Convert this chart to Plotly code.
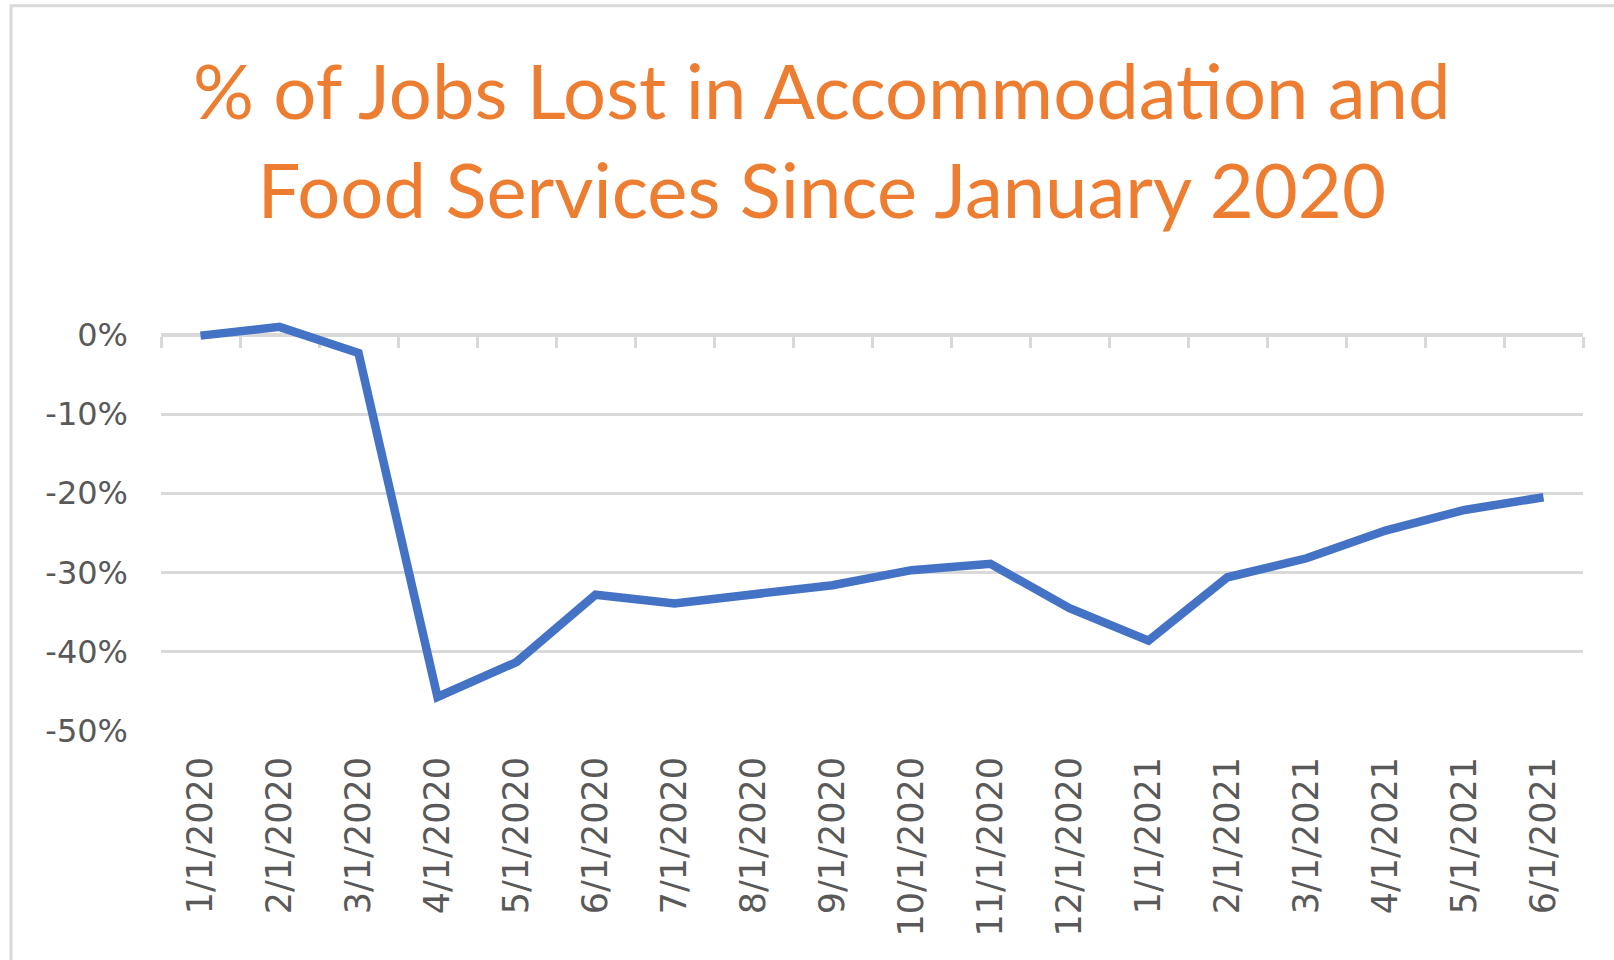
import plotly.graph_objects as go

# ---- data ----
months = ["1/1/2020", "2/1/2020", "3/1/2020", "4/1/2020", "5/1/2020", "6/1/2020",
          "7/1/2020", "8/1/2020", "9/1/2020", "10/1/2020", "11/1/2020", "12/1/2020",
          "1/1/2021", "2/1/2021", "3/1/2021", "4/1/2021", "5/1/2021", "6/1/2021"]
pct_jobs_lost = [-0.1, 1.0, -2.3, -45.7, -41.3, -32.8,
                 -33.9, -32.7, -31.6, -29.7, -28.9, -34.5,
                 -38.6, -30.6, -28.2, -24.7, -22.1, -20.5]
y_tick_vals = [0, -10, -20, -30, -40, -50]
y_tick_text = ["0%", "-10%", "-20%", "-30%", "-40%", "-50%"]
title_text = "% of Jobs Lost in Accommodation and<br>Food Services Since January 2020"

# ---- layout geometry (screen pixels; body margin removed by post_script) ----
W, H = 1614, 960
PLOT_L, PLOT_R = 161, 1583
Y0_PX, Y50_PX = 335, 731
YMIN, YMAX = -50, 2.5
px_per_unit = (Y50_PX - Y0_PX) / 50.0
PLOT_T = Y0_PX - YMAX * px_per_unit
PLOT_B = Y50_PX
plot_h = PLOT_B - PLOT_T
plot_w = PLOT_R - PLOT_L
x_range = [-0.5, len(months) - 0.5]


def paper_x(px):
    return (px - PLOT_L) / plot_w


def paper_y(py):
    return (PLOT_B - py) / plot_h


GRID = "#D9D9D9"
LABEL = "#595959"

fig = go.Figure()
fig.add_trace(go.Scatter(
    x=months, y=pct_jobs_lost, mode="lines",
    line=dict(color="#4472C4", width=8.5),
    hoverinfo="skip", showlegend=False,
))
# invisible trace to activate the secondary category axis drawn at 0%
fig.add_trace(go.Scatter(
    x=months, y=pct_jobs_lost, mode="lines", xaxis="x2",
    line=dict(color="rgba(0,0,0,0)", width=0),
    hoverinfo="skip", showlegend=False,
))

fig.update_layout(
    width=W, height=H,
    margin=dict(l=PLOT_L, r=W - PLOT_R, t=PLOT_T, b=H - PLOT_B, pad=0),
    paper_bgcolor="white", plot_bgcolor="white",
    showlegend=False,
    xaxis=dict(
        type="category", categoryorder="array", categoryarray=months,
        range=x_range, autorange=False,
        showgrid=False, showline=False, zeroline=False, ticks="",
        tickangle=-90, ticklabelstandoff=18,
        tickfont=dict(family="DejaVu Sans", size=35, color=LABEL),
    ),
    xaxis2=dict(
        type="category", categoryorder="array", categoryarray=months,
        range=x_range, autorange=False,
        overlaying="x", anchor="free", position=(PLOT_B - Y0_PX) / plot_h,
        side="bottom", showticklabels=False, showgrid=False, zeroline=False,
        showline=True, linecolor=GRID, linewidth=3,
        ticks="outside", ticklen=11, tickwidth=3, tickcolor=GRID,
        tickson="boundaries", layer="below traces",
    ),
    yaxis=dict(
        range=[YMIN, YMAX], tickmode="array",
        tickvals=y_tick_vals, ticktext=y_tick_text,
        showgrid=True, gridcolor=GRID, gridwidth=3,
        zeroline=False, showline=False, ticks="",
        ticklabelstandoff=32,
        tickfont=dict(family="DejaVu Sans", size=32, color=LABEL),
    ),
    annotations=[dict(
        text=title_text, xref="paper", yref="paper",
        x=paper_x(822), y=paper_y(139), xanchor="center", yanchor="middle",
        showarrow=False,
        font=dict(family="Lato", size=76, color="#ED7D31"),
    )],
    shapes=[dict(
        type="rect", xref="paper", yref="paper",
        x0=paper_x(11), x1=paper_x(W + 40), y0=paper_y(H + 40), y1=paper_y(6),
        line=dict(color=GRID, width=3), fillcolor="rgba(0,0,0,0)", layer="below",
    )],
)

fig.write_html("out.html", config={"displayModeBar": False},
               post_script="document.body.style.margin='0px';")
